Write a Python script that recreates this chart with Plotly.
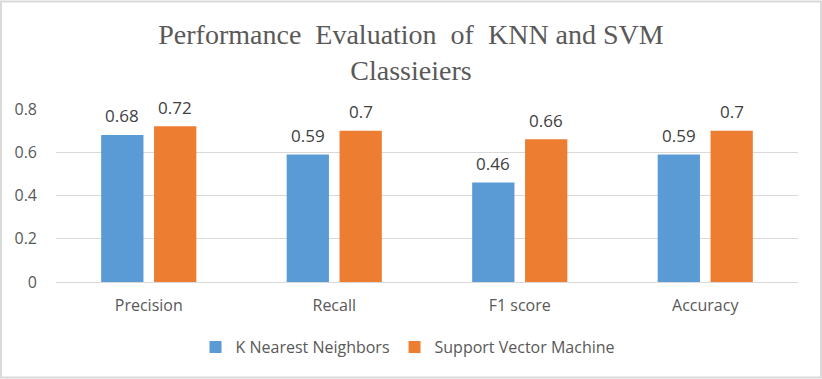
import plotly.graph_objects as go

categories = ["Precision", "Recall", "F1 score", "Accuracy"]
knn_values = [0.68, 0.59, 0.46, 0.59]
svm_values = [0.72, 0.70, 0.66, 0.70]
knn_labels = ["0.68", "0.59", "0.46", "0.59"]
svm_labels = ["0.72", "0.7", "0.66", "0.7"]
y_ticks = [0, 0.2, 0.4, 0.6, 0.8]
y_tick_labels = ["0", "0.2", "0.4", "0.6", "0.8"]

W, H = 822, 379
ML, MR, MT, MB = 56, 24, 109, 97
PW, PH = W - ML - MR, H - MT - MB

SANS = "'Open Sans', Carlito, Calibri, sans-serif"
label_font = dict(family=SANS, size=17, color="#404040")

fig = go.Figure()
fig.add_trace(go.Bar(
    x=categories, y=knn_values, name="K Nearest Neighbors",
    marker=dict(color="#5B9BD5", line=dict(width=0)),
))
fig.add_trace(go.Bar(
    x=categories, y=svm_values, name="Support Vector Machine",
    marker=dict(color="#ED7D31", line=dict(width=0)),
))

annotations = []
for cat, v, lab in zip(categories, knn_values, knn_labels):
    annotations.append(dict(x=cat, y=v, text=lab, showarrow=False, xshift=-26.5, yshift=19,
                            yanchor="middle", font=label_font))
for cat, v, lab in zip(categories, svm_values, svm_labels):
    annotations.append(dict(x=cat, y=v, text=lab, showarrow=False, xshift=26.5, yshift=19,
                            yanchor="middle", font=label_font))

nb = "\u00a0"
title_text = f"Performance{nb}{nb}Evaluation{nb}{nb}of{nb}{nb}KNN and SVM<br>Classieiers"

def px_x(p):
    return (p - ML) / PW

def px_y(p):
    return (H - MB - p) / PH

fig.update_layout(
    width=W, height=H,
    margin=dict(l=ML, r=MR, t=MT, b=MB, autoexpand=False),
    paper_bgcolor="white", plot_bgcolor="white",
    title=dict(text=title_text, x=411 / W, xref="container", xanchor="center",
               y=1 - 44 / H, yref="container", yanchor="middle",
               font=dict(family="Liberation Serif, 'Times New Roman', serif", size=28, color="#595959")),
    barmode="group", bargap=0.43, bargroupgap=0.2,
    showlegend=True,
    legend=dict(orientation="h", x=408 / W, xref="container", xanchor="center",
                y=px_y(347), yanchor="middle",
                font=dict(family=SANS, size=16, color="#595959"),
                itemwidth=30, traceorder="normal"),
    annotations=annotations,
    xaxis=dict(showgrid=False, showline=False, ticks="", ticklabelstandoff=12,
               tickfont=dict(family=SANS, size=16, color="#595959")),
    yaxis=dict(range=[0, 0.8], tickvals=y_ticks, ticktext=y_tick_labels,
               showgrid=True, gridcolor="#D9D9D9", gridwidth=1, zeroline=True,
               zerolinecolor="#D9D9D9", zerolinewidth=1, showline=False, ticks="",
               ticklabelstandoff=18,
               tickfont=dict(family=SANS, size=16, color="#595959")),
    shapes=[dict(type="rect", xref="paper", yref="paper",
                 x0=px_x(1), x1=px_x(W - 1), y0=px_y(H - 1.5), y1=px_y(1.5),
                 line=dict(color="#D9D9D9", width=2), fillcolor="rgba(0,0,0,0)", layer="below")],
)

fig.write_html("out.html", config={"displayModeBar": False},
               post_script="document.body.style.margin='0';document.body.style.overflow='hidden';")
